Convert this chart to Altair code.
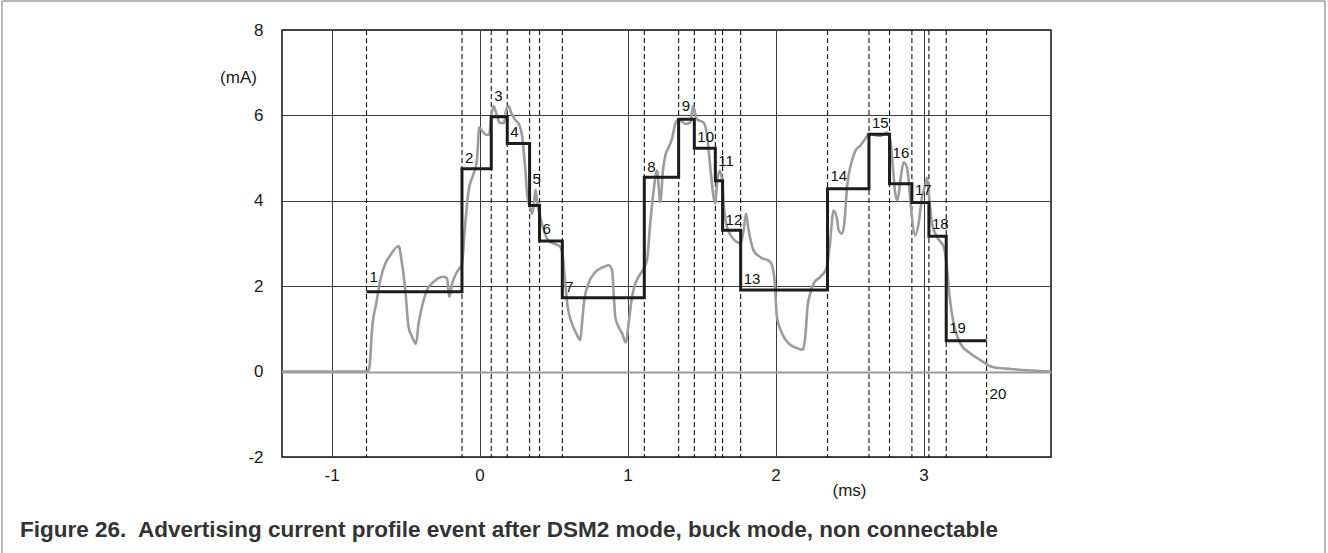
import altair as alt
import pandas as pd

# Time (ms) at which each numbered phase starts (dashed markers 1..20)
seg_start = [-0.764, -0.119, 0.079, 0.187, 0.338, 0.405, 0.559, 1.113, 1.345, 1.451,
             1.593, 1.642, 1.764, 2.351, 2.631, 2.770, 2.921, 3.036, 3.153, 3.426]
# Average current (mA) of phases 1..19
seg_level = [1.87, 4.75, 5.97, 5.34, 3.89, 3.06, 1.73, 4.55, 5.91, 5.23,
             4.47, 3.31, 1.91, 4.28, 5.56, 4.40, 3.96, 3.17, 0.72]
seg_label = [str(i) for i in range(1, 21)]
label_y = [2.22, 5.01, 6.45, 5.62, 4.52, 3.35, 1.98, 4.80, 6.21, 5.50,
           4.94, 3.55, 2.16, 4.57, 5.82, 5.12, 4.26, 3.45, 1.01, -0.52]

# Measured current trace
curve_t = [-1.335, -0.761, -0.745, -0.739, -0.727, -0.698, -0.671, -0.637, -0.604, -0.547,
           -0.524, -0.502, -0.480, -0.457, -0.430, -0.412, -0.389, -0.355, -0.311, -0.243,
           -0.220, -0.205, -0.186, -0.153, -0.119, -0.097, -0.074, -0.041, -0.018, -0.002,
           0.020, 0.050, 0.065, 0.080, 0.095, 0.117, 0.135, 0.165, 0.178, 0.196,
           0.215, 0.240, 0.270, 0.288, 0.300, 0.310, 0.320, 0.340, 0.356, 0.367,
           0.378, 0.390, 0.415, 0.440, 0.470, 0.500, 0.545, 0.563, 0.579, 0.595,
           0.624, 0.658, 0.680, 0.692, 0.707, 0.736, 0.782, 0.838, 0.872, 0.895,
           0.917, 0.939, 0.962, 0.989, 1.007, 1.030, 1.045, 1.074, 1.108, 1.131,
           1.153, 1.176, 1.199, 1.221, 1.239, 1.255, 1.277, 1.300, 1.322, 1.345,
           1.370, 1.390, 1.424, 1.442, 1.469, 1.514, 1.536, 1.559, 1.581, 1.593,
           1.604, 1.622, 1.638, 1.649, 1.672, 1.705, 1.739, 1.761, 1.784, 1.800,
           1.818, 1.851, 1.897, 1.964, 1.991, 2.009, 2.043, 2.088, 2.145, 2.185,
           2.201, 2.216, 2.234, 2.257, 2.302, 2.343, 2.365, 2.392, 2.415, 2.426,
           2.449, 2.464, 2.483, 2.516, 2.539, 2.572, 2.606, 2.628, 2.707, 2.753,
           2.775, 2.793, 2.809, 2.824, 2.843, 2.865, 2.888, 2.905, 2.921, 2.944,
           2.966, 2.989, 3.011, 3.023, 3.038, 3.057, 3.091, 3.136, 3.158, 3.176,
           3.203, 3.248, 3.315, 3.383, 3.473, 3.586, 3.861]
curve_ma = [0.00, 0.00, 0.08, 0.30, 0.97, 1.60, 2.14, 2.53, 2.72, 2.94,
            2.53, 1.91, 1.05, 0.82, 0.65, 1.13, 1.52, 1.91, 2.10, 2.22,
            2.18, 1.75, 2.06, 2.33, 2.53, 3.46, 4.24, 4.63, 4.94, 5.72,
            5.62, 5.54, 5.56, 6.00, 6.22, 6.00, 5.83, 5.82, 6.10, 6.22,
            6.05, 5.90, 5.76, 5.50, 5.10, 4.70, 4.20, 3.85, 3.70, 3.95,
            4.26, 3.95, 3.55, 3.25, 3.05, 3.00, 2.92, 2.68, 2.06, 1.52,
            1.13, 0.86, 0.74, 1.13, 1.67, 2.06, 2.33, 2.45, 2.49, 2.37,
            1.28, 1.05, 0.90, 0.68, 1.13, 1.75, 1.98, 2.22, 2.41, 2.61,
            3.46, 4.24, 4.71, 3.97, 4.71, 5.06, 5.25, 5.45, 5.80, 5.91,
            5.85, 5.80, 5.83, 6.22, 5.91, 5.83, 5.56, 4.78, 4.08, 3.93,
            4.40, 4.71, 4.51, 3.93, 3.38, 3.15, 3.03, 3.00, 3.31, 3.70,
            3.31, 2.84, 2.68, 2.57, 2.22, 1.28, 0.90, 0.66, 0.55, 0.51,
            0.82, 1.52, 1.83, 2.06, 2.22, 2.41, 2.92, 3.77, 3.58, 3.31,
            3.23, 3.46, 4.32, 4.94, 5.17, 5.29, 5.45, 5.56, 5.52, 5.60,
            5.41, 4.78, 4.16, 4.01, 4.47, 4.90, 4.78, 4.24, 3.62, 3.19,
            3.46, 4.08, 4.36, 4.54, 4.08, 3.46, 3.15, 2.92, 2.45, 1.75,
            1.13, 0.66, 0.43, 0.27, 0.10, 0.06, 0.00]

x_ticks = [-1, 0, 1, 2, 3]
y_ticks = [-2, 0, 2, 4, 6, 8]

FONT = "Liberation Sans"
W, H = 769, 427
PAD_L, PAD_T = 282, 30

xs = alt.Scale(domain=[-1.335, 3.861], nice=False, zero=False)
ys = alt.Scale(domain=[-2, 8], nice=False, zero=False)

x_axis = alt.Axis(
    values=x_ticks, labelExpr="'' + datum.value",
    title="(ms)", titleX=567, titleY=33,
    titleAlign="center", titleBaseline="middle", titleAngle=0,
    labelPadding=10, grid=True,
)
y_axis = alt.Axis(
    values=y_ticks, labelExpr="'' + datum.value",
    title="(mA)", titleX=-44, titleY=47, titleAngle=0,
    titleAlign="center", titleBaseline="middle",
    labelPadding=19, grid=True,
    gridColor={"condition": {"test": "datum.value === 0", "value": "#9a9a9a"}, "value": "#3a3a3a"},
    gridWidth={"condition": {"test": "datum.value === 0", "value": 2.2}, "value": 1},
)

steps = pd.DataFrame({"t": seg_start, "ma": seg_level + [seg_level[-1]]})
labels = pd.DataFrame({"t": seg_start, "ma": label_y, "txt": seg_label})
trace = pd.DataFrame({"t": curve_t, "ma": curve_ma})
markers = pd.DataFrame({"t": seg_start})
one = pd.DataFrame({"k": [0]})

axes = alt.Chart(markers).mark_point(opacity=0).encode(
    x=alt.X("t:Q", scale=xs, axis=x_axis),
    y=alt.Y("t:Q", scale=ys, axis=y_axis),
)

dashed = alt.Chart(markers).mark_rule(
    color="#111111", strokeWidth=1.1, strokeDash=[5, 3]
).encode(x=alt.X("t:Q", scale=xs))

curve = alt.Chart(trace).mark_line(
    color="#9c9c9c", strokeWidth=2.6, interpolate="monotone", clip=True
).encode(
    x=alt.X("t:Q", scale=xs),
    y=alt.Y("ma:Q", scale=ys),
    order="t:Q",
)

step_line = alt.Chart(steps).mark_line(
    color="#1c1c1c", strokeWidth=3, interpolate="step-after"
).encode(
    x=alt.X("t:Q", scale=xs),
    y=alt.Y("ma:Q", scale=ys),
    order="t:Q",
)

phase_text = alt.Chart(labels).mark_text(
    align="left", baseline="middle", dx=3, font=FONT, fontSize=15, color="#111111"
).encode(
    x=alt.X("t:Q", scale=xs),
    y=alt.Y("ma:Q", scale=ys),
    text="txt:N",
)

caption = alt.Chart(one).mark_text(
    align="left", baseline="middle", font=FONT, fontSize=22.5, fontWeight="bold", color="#333333"
).encode(
    x=alt.value(20 - PAD_L), y=alt.value(530 - PAD_T),
    text=alt.value("Figure 26.\u00a0 Advertising current profile event after DSM2 mode, buck mode, non connectable"),
)

frame_col = "#a0a0a0"
frame_top = alt.Chart(one).mark_rule(color=frame_col, strokeWidth=1.5).encode(
    x=alt.value(2 - PAD_L), x2=alt.value(1325 - PAD_L), y=alt.value(1 - PAD_T)
)
frame_left = alt.Chart(one).mark_rule(color=frame_col, strokeWidth=1.5).encode(
    x=alt.value(2 - PAD_L), y=alt.value(1 - PAD_T), y2=alt.value(553 - PAD_T)
)
frame_right = alt.Chart(one).mark_rule(color=frame_col, strokeWidth=1.5).encode(
    x=alt.value(1325 - PAD_L), y=alt.value(1 - PAD_T), y2=alt.value(553 - PAD_T)
)

chart = alt.layer(
    axes, dashed, curve, step_line, phase_text, caption, frame_top, frame_left, frame_right
).properties(
    width=W, height=H,
    autosize=alt.AutoSizeParams(type="none"),
    padding={"left": PAD_L, "top": PAD_T, "right": 1328 - PAD_L - W, "bottom": 553 - PAD_T - H},
    background="white",
).configure_view(
    stroke="#111111", strokeWidth=1.5
).configure_axis(
    domain=False, ticks=False,
    gridColor="#3a3a3a", gridWidth=1, gridOpacity=1,
    labelFont=FONT, labelFontSize=17, labelColor="#1a1a1a",
    titleFont=FONT, titleFontSize=17, titleFontWeight="normal", titleColor="#1a1a1a",
)

chart.save("out.html", embed_options={"renderer": "svg", "actions": False})
